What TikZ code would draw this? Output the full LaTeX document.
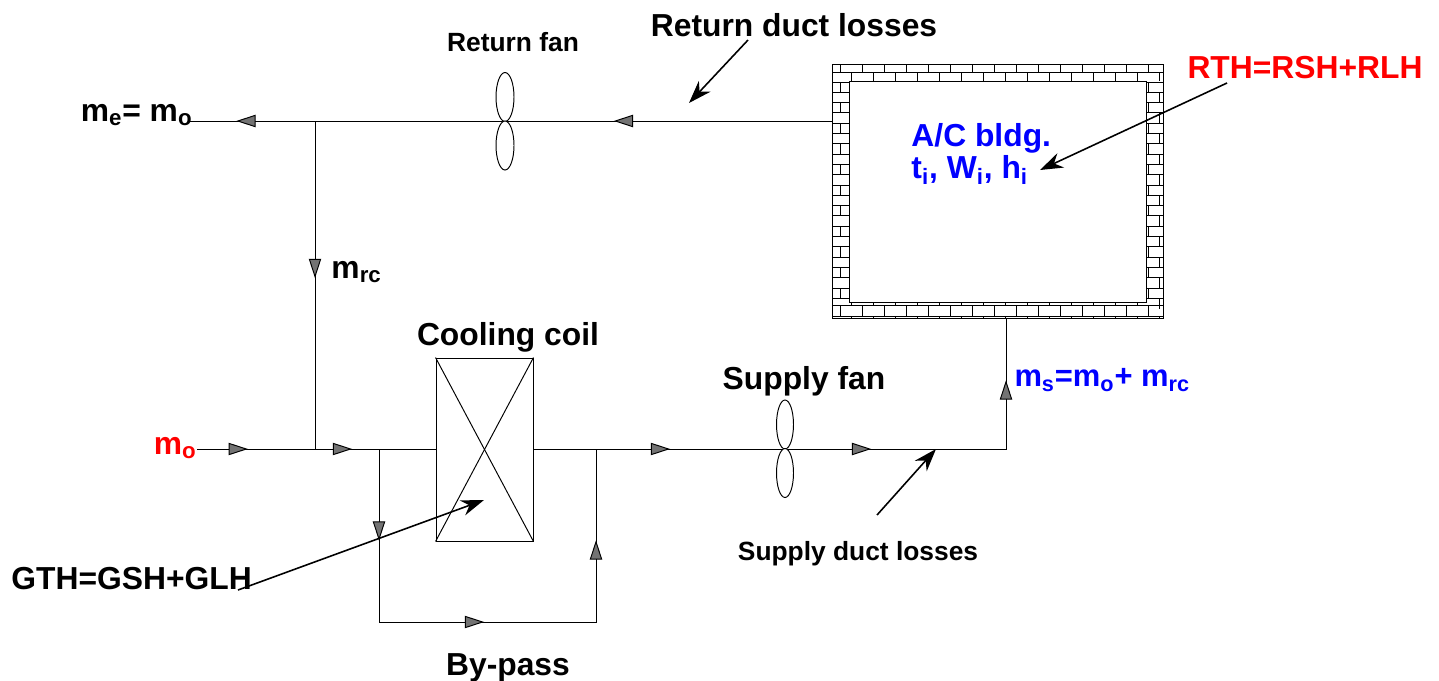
\documentclass[tikz,border=0pt]{standalone}
\usepackage{fontspec}
\setmainfont{Liberation Sans}
\usepackage{tikz}
\usetikzlibrary{arrows.meta,positioning,calc,shapes.geometric,decorations.markings}
\definecolor{labelblue}{RGB}{0,0,255}
\definecolor{labelred}{RGB}{255,0,0}

\begin{document}
\begin{tikzpicture}[x=0.02cm,y=-0.02cm,
      line width=0.55pt,
      big/.style={font=\bfseries\fontsize{18.1}{21}\selectfont, inner sep=0pt},
      small/.style={font=\bfseries\fontsize{15}{18}\selectfont, inner sep=0pt},
      fan/.style={draw, ellipse, inner sep=0pt, fill=white},
      wall/.style={draw, minimum width=#1, inner sep=0pt},
      coilbox/.style={draw, minimum width=1.94cm, minimum height=3.66cm, inner sep=0pt},
      note/.style={-{Stealth[length=13pt,width=9pt]}, line width=0.9pt},
      flowat/.style={postaction={decorate, decoration={markings,
          mark=at position #1 with {\arrow{Triangle[length=11pt,width=7pt,fill=black!55]}}}}}
    ]
      \useasboundingbox (0,0) rectangle (1439,680);

      % building wall
      \node[wall=6.62cm, minimum height=5.08cm] (bldg) at (997.5,191) {};
      \node[wall=5.94cm, minimum height=4.42cm] (room) at (997.5,191.5) {};
      \draw (832,72) -- (1163,72);
      \draw (832,305) -- (1163,305);
      \draw (832,316) -- (1163,316);
      \foreach \x in {840,862,...,1148} \draw (\x,64) -- (\x,72);
      \foreach \x in {851,873,...,1159} \draw (\x,72) -- (\x,81);
      \foreach \x in {840,862,...,1148} \draw (\x,305) -- (\x,316);
      \foreach \x in {851,873,...,1159} {
        \draw (\x,302) -- (\x,305);
        \draw (\x,316) -- (\x,318);
      }
      \foreach \y in {82,92.3,...,305} {
        \draw (832,\y) -- (849,\y);
        \draw (1146,\y) -- (1163,\y);
      }
      \foreach \y in {82,102.6,...,290} {
        \draw (840,\y) -- (840,\y+10.3);
        \draw (1159,\y+10.3) -- (1159,\y+20.6);
        \draw (1148,\y) -- (1148,\y+10.3);
      }

      % named points of the ducts
      \coordinate (exhaust) at (190,121);
      \coordinate (retout) at (832,121);
      \coordinate (jtop) at (315,121);
      \coordinate (jbot) at (315,449);
      \coordinate (intake) at (197,449);
      \coordinate (coilin) at (436,449);
      \coordinate (coilout) at (533,449);
      \coordinate (riser) at (1006,449);
      \coordinate (supin) at (1006,318);
      \coordinate (bpa) at (379,449);
      \coordinate (bpb) at (379,622);
      \coordinate (bpc) at (596,622);
      \coordinate (bpd) at (596,449);

      % ducts
      \draw[flowat=0.928, flowat=0.34] (retout) -- (exhaust);
      \draw[flowat=0.479] (jtop) -- (jbot);
      \draw[flowat=0.213, flowat=0.649] (intake) -- (coilin);
      \draw[flowat=0.227, flowat=0.56, flowat=0.897] (coilout) -- (riser) -- (supin);
      \draw[flowat=0.163, flowat=0.494, flowat=0.838] (bpa) -- (bpb) -- (bpc) -- (bpd);

      % cooling coil
      \node[coilbox] (coil) at (484.5,449.5) {};
      \draw (coil.north west) -- (coil.south east);
      \draw (coil.north east) -- (coil.south west);

      % fans
      \node[fan, minimum width=0.36cm, minimum height=0.98cm] (rfana) at (505,97) {};
      \node[fan, minimum width=0.36cm, minimum height=0.98cm] (rfanb) at (505,145.5) {};
      \node[fan, minimum width=0.34cm, minimum height=0.98cm] (sfana) at (785,424.5) {};
      \node[fan, minimum width=0.34cm, minimum height=0.98cm] (sfanb) at (785,473) {};

      % labels
      \node[small] (rfan) at (513,42) {Return fan};
      \node[big] (rloss) at (794,25) {Return duct losses};
      \node[big, labelred] (rth) at (1305,68) {RTH=RSH+RLH};
      \node[big, labelblue, anchor=west] (ac) at (911,138) {A/C bldg.};
      \node[big, labelblue, anchor=west] (state) at (911,170) {t\textsubscript{i}, W\textsubscript{i}, h\textsubscript{i}};
      \node[big, anchor=east] (me) at (193,115) {m\textsubscript{e}= m\textsubscript{o}};
      \node[big, anchor=west] (mrc) at (331,272) {m\textsubscript{rc}};
      \node[big] (cclabel) at (508,337) {Cooling coil};
      \node[big] (sfan) at (804,381) {Supply fan};
      \node[big, labelblue, anchor=west, font=\bfseries\fontsize{17.6}{21}\selectfont] (ms) at (1014,380) {m\textsubscript{s}=m\textsubscript{o}+ m\textsubscript{rc}};
      \node[big, labelred, anchor=east] (mo) at (197,448) {m\textsubscript{o}};
      \node[big, anchor=west] (gth) at (11,579) {GTH=GSH+GLH};
      \node[small] (sloss) at (858,554) {Supply duct losses};
      \node[big] (bypass) at (508,668) {By-pass};

      % load arrows
      \coordinate (rlossa) at (748,40);
      \coordinate (rlossb) at (689,103);
      \coordinate (rtha) at (1227,83);
      \coordinate (rthb) at (1040,170);
      \coordinate (gtha) at (238,590);
      \coordinate (gthb) at (484,500);
      \coordinate (slossa) at (877,515);
      \coordinate (slossb) at (936,449);
      \draw[note] (rlossa) -- (rlossb);
      \draw[note] (rtha) -- (rthb);
      \draw[note] (gtha) -- (gthb);
      \draw[note] (slossa) -- (slossb);
    \end{tikzpicture}
\end{document}
